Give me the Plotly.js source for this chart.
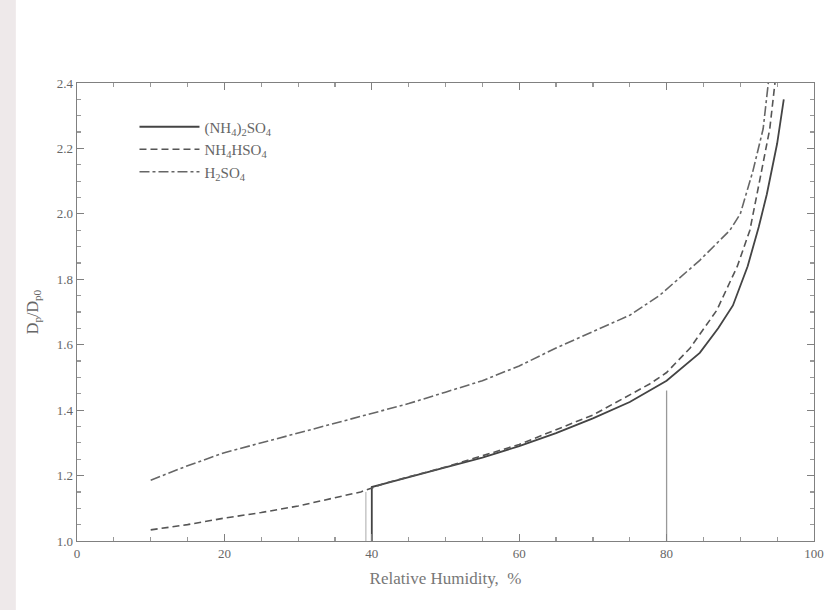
<!DOCTYPE html>
<html>
<head>
<meta charset="utf-8">
<script src="https://cdn.plot.ly/plotly-3.0.1.min.js"></script>
<style>html,body{margin:0;padding:0;background:#fff;}#chart{width:825px;height:610px;}</style>
</head>
<body>
<div id="chart"></div>
<script>
// (NH4)2SO4 – solid
const rhAS = [40, 40, 42.5, 46, 50, 55, 60, 65, 70, 75, 80, 84.5, 87, 89, 91, 92.5, 93.6, 95, 95.9];
const dpAS = [1.0, 1.165, 1.18, 1.20, 1.225, 1.255, 1.29, 1.33, 1.375, 1.425, 1.49, 1.575, 1.65, 1.72, 1.84, 1.96, 2.06, 2.215, 2.35];
// NH4HSO4 – dashed
const rhAB = [10, 15, 20, 25, 30, 35, 38.5, 42, 50, 60, 70, 77.7, 80, 83.2, 86.8, 89.6, 91.3, 92.7, 94, 94.7];
const dpAB = [1.034, 1.05, 1.07, 1.087, 1.107, 1.133, 1.15, 1.178, 1.226, 1.295, 1.385, 1.48, 1.515, 1.59, 1.705, 1.84, 1.95, 2.11, 2.26, 2.4];
// H2SO4 – dash-dot
const rhSA = [10, 15, 20, 25, 30, 35, 40, 45, 50, 55, 60, 65, 70, 75, 79, 84.5, 88.6, 90, 91.7, 93.1, 93.8];
const dpSA = [1.186, 1.23, 1.27, 1.30, 1.33, 1.36, 1.39, 1.42, 1.455, 1.49, 1.535, 1.59, 1.64, 1.69, 1.75, 1.858, 1.95, 2.0, 2.13, 2.26, 2.4];
// reference drop lines
const dropRH80 = [80, 80];
const dropDp80 = [1.0, 1.46];
const dropRH39 = [39.2, 39.2];
const dropDp39 = [1.0, 1.15];

const xTicks = [0, 20, 40, 60, 80, 100];
const yTicks = [1.0, 1.2, 1.4, 1.6, 1.8, 2.0, 2.2, 2.4];
const yTickText = ['1.0', '1.2', '1.4', '1.6', '1.8', '2.0', '2.2', '2.4'];

const serif = 'Liberation Serif, DejaVu Serif, serif';

const traces = [
  {x: rhAS, y: dpAS, mode: 'lines', name: '(NH<sub>4</sub>)<sub>2</sub>SO<sub>4</sub>',
   line: {color: '#444', width: 1.8}},
  {x: rhAB, y: dpAB, mode: 'lines', name: 'NH<sub>4</sub>HSO<sub>4</sub>',
   line: {color: '#555', width: 1.6, dash: '7px,4px'}},
  {x: rhSA, y: dpSA, mode: 'lines', name: 'H<sub>2</sub>SO<sub>4</sub>',
   line: {color: '#666', width: 1.6, dash: '10px,3px,3px,3px'}},
  {x: dropRH80, y: dropDp80, mode: 'lines', showlegend: false, hoverinfo: 'skip',
   line: {color: '#999', width: 1.3}},
  {x: dropRH39, y: dropDp39, mode: 'lines', showlegend: false, hoverinfo: 'skip',
   line: {color: '#aaa', width: 1}}
];

const axisCommon = {
  showgrid: false, zeroline: false, showline: true, linecolor: '#808080', linewidth: 1.4,
  mirror: 'ticks', ticks: 'inside', ticklen: 7, tickwidth: 1.2, tickcolor: '#808080',
  tickfont: {family: serif, size: 13, color: '#666'}
};

const layout = {
  width: 825, height: 610,
  margin: {l: 77, r: 11, t: 83, b: 69},
  paper_bgcolor: '#fff', plot_bgcolor: '#fff',
  showlegend: true,
  legend: {x: 0.078, y: 0.94, xanchor: 'left', yanchor: 'top', bgcolor: 'rgba(0,0,0,0)',
    font: {family: serif, size: 15, color: '#666'}, itemwidth: 60, tracegroupgap: 2},
  xaxis: Object.assign({}, axisCommon, {
    range: [0, 100], tickvals: xTicks, ticktext: xTicks.map(String),
    minor: {dtick: 5, ticks: 'inside', ticklen: 4, tickcolor: '#999'},
    title: {text: 'Relative Humidity,  %', font: {family: serif, size: 17, color: '#777'}, standoff: 12}
  }),
  yaxis: Object.assign({}, axisCommon, {
    range: [1.0, 2.4], tickvals: yTicks, ticktext: yTickText,
    minor: {dtick: 0.05, ticks: 'inside', ticklen: 4, tickcolor: '#999'},
    title: {text: 'D<sub>p</sub>/D<sub>p0</sub>', font: {family: serif, size: 16, color: '#666'}, standoff: 14}
  }),
  shapes: [
    {type: 'rect', xref: 'paper', yref: 'paper', x0: -0.1045, x1: -0.083, y0: -0.151, y1: 1.181,
     fillcolor: '#eee9ea', line: {width: 0}, layer: 'below'}
  ]
};

Plotly.newPlot('chart', traces, layout, {displayModeBar: false, staticPlot: true});
</script>
</body>
</html>
